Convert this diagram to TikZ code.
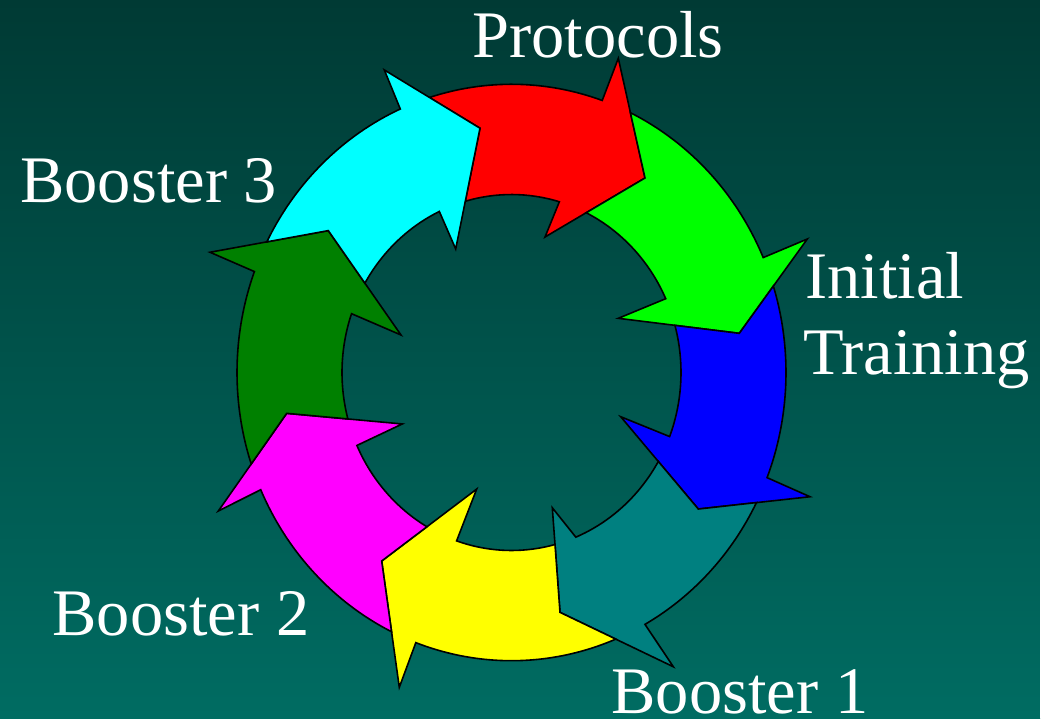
\documentclass[tikz,border=0pt]{standalone}
\usepackage{fontspec}
\setmainfont{Liberation Serif}
\definecolor{bgtop}{RGB}{0,58,52}
\definecolor{bgbot}{RGB}{0,108,98}
\definecolor{cRed}{RGB}{255,0,0}
\definecolor{cGreen}{RGB}{0,255,0}
\definecolor{cBlue}{RGB}{0,0,255}
\definecolor{cTeal}{RGB}{0,128,128}
\definecolor{cYellow}{RGB}{255,255,0}
\definecolor{cMagenta}{RGB}{255,0,255}
\definecolor{cDkGreen}{RGB}{0,128,0}
\definecolor{cCyan}{RGB}{0,255,255}
\tikzset{
  seg/.style={draw=black, line width=1.6pt, line join=miter, miter limit=6},
  lbl/.style={text=white, inner sep=0pt, font=\fontsize{66.5}{76.7}\selectfont},
}
% #1 colour, #2 tail outer angle, #3 notch outer angle, #4 prefix of own head, #5 notch inner angle, #6 tail inner angle, #7 prefix of previous head
\newcommand{\ringarrow}[7]{%
  \filldraw[seg, fill=#1] (#2:274.5) arc[start angle=#2, end angle=#3, radius=274.5]
    -- (#4so) -- (#4t) -- (#4si)
    -- (#5:169.5) arc[start angle=#5, end angle=#6, radius=169.5]
    -- (#7t) -- cycle;}
\begin{document}
\begin{tikzpicture}[x=1pt, y=1pt]
\useasboundingbox (0,0) rectangle (1057,718);
\shade[top color=bgtop, bottom color=bgbot] (0,0) rectangle (1040,718);

\begin{scope}[shift={(511.5,345.5)}, yscale=1.05]
  % arrow heads: outer spike (so), tip (t), inner spike (si)
  \coordinate (cyso) at (-127.2,288.1); \coordinate (cyt) at (-31.5,232.6); \coordinate (cysi) at (-55.8,117.6);
  \coordinate (rdso) at (106.8,299.2);  \coordinate (rdt) at (133.5,185.2); \coordinate (rdsi) at (33.5,129.0);
  \coordinate (gnso) at (295.8,127.1);  \coordinate (gnt) at (227.8,37.3);  \coordinate (gnsi) at (106.8,51.6);
  \coordinate (blso) at (298.5,-118.3); \coordinate (blt) at (186.8,-130.0); \coordinate (blsi) at (109.2,-42.1);
  \coordinate (tlso) at (161.8,-280.2); \coordinate (tlt) at (48.5,-228.4); \coordinate (tlsi) at (40.8,-128.8);
  \coordinate (ylso) at (-112.2,-299.8); \coordinate (ylt) at (-129.8,-179.5); \coordinate (ylsi) at (-34.8,-111.0);
  \coordinate (mgso) at (-293.2,-131.9); \coordinate (mgt) at (-224.8,-38.9); \coordinate (mgsi) at (-109.2,-49.0);
  \coordinate (dgso) at (-301.5,114.5); \coordinate (dgt) at (-183.2,135.1); \coordinate (dgsi) at (-110.5,35.7);

  \ringarrow{cRed}{107.4}{70.7}{rd}{73.6}{105.8}{cy}
  \ringarrow{cGreen}{64.33}{23.5}{gn}{24.5}{63.85}{rd}
  \ringarrow{cBlue}{17.45}{-21.4}{bl}{-21.1}{15.36}{gn}
  \ringarrow{cTeal}{-26.83}{-60.9}{tl}{-67.7}{-29.99}{bl}
  \ringarrow{cYellow}{-67.67}{-110.4}{yl}{-108.9}{-75.13}{tl}
  \ringarrow{cMagenta}{-115.91}{-156}{mg}{-155.8}{-119.93}{yl}
  \ringarrow{cDkGreen}{198.51}{159.5}{dg}{160.7}{195.13}{mg}
  \ringarrow{cCyan}{153.05}{113.9}{cy}{115.2}{149.88}{dg}
\end{scope}

\node[lbl, anchor=base] (protocols) at (598,660.7) {Protocols};
\node[lbl, anchor=base] (booster3) at (148.7,515.7) {Booster 3};
\node[lbl, anchor=base west] (initial) at (805,419.7) {Initial};
\node[lbl, anchor=base west] (training) at (803,343) {Training};
\node[lbl, anchor=base] (booster2) at (181,83) {Booster 2};
\node[lbl, anchor=base] (booster1) at (740,4.7) {Booster 1};

\fill[white] (1040,0) rectangle (1057,718);
\end{tikzpicture}
\end{document}
